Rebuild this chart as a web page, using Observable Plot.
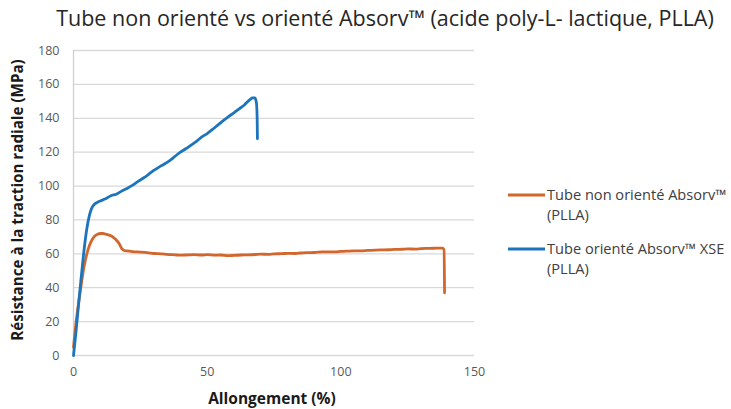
<!DOCTYPE html>
<html>
<head>
<meta charset="utf-8">
<script src="https://cdn.jsdelivr.net/npm/d3@7"></script>
<script src="https://cdn.jsdelivr.net/npm/@observablehq/plot@0.6"></script>
<style>
  html, body { margin: 0; padding: 0; background: #fff; }
  #chart { width: 731px; height: 409px; }
</style>
</head>
<body>
<div id="chart"></div>
<script>
const title = "Tube non orienté vs orienté Absorv™ (acide poly-L- lactique, PLLA)";
const xTitle = "Allongement (%)";
const yTitle = "Résistance à la traction radiale (MPa)";
const seriesNames = ["Tube non orienté Absorv™ (PLLA)", "Tube orienté Absorv™ XSE (PLLA)"];
const seriesLegendLines = [["Tube non orienté Absorv™", "(PLLA)"], ["Tube orienté Absorv™ XSE", "(PLLA)"]];
const xTicks = [0, 50, 100, 150];
const yTicks = [0, 20, 40, 60, 80, 100, 120, 140, 160, 180];

// Non-oriented tube (orange)
const nonOrientedX = [0, 1, 2, 3, 4, 5, 6, 7, 8, 9, 10, 11, 12, 13, 14, 15, 16, 17, 18, 19, 20, 22, 25, 28, 30, 33, 35, 38, 40, 43, 45, 48, 50, 53, 55, 58, 60, 63, 65, 68, 70, 73, 75, 78, 80, 83, 85, 88, 90, 93, 95, 98, 100, 103, 105, 108, 110, 113, 115, 118, 120, 123, 125, 128, 130, 133, 135, 137, 138, 138.6, 138.8];
const nonOrientedY = [5, 20, 32, 43, 53, 60, 65, 68.5, 70.5, 71.5, 72, 72, 71.6, 71.2, 70.6, 69.6, 68.2, 66.2, 63.2, 62, 61.7, 61.3, 61, 60.6, 60.2, 60, 59.7, 59.4, 59.2, 59.4, 59.5, 59.3, 59.5, 59.2, 59.3, 58.9, 59.1, 59.3, 59.4, 59.6, 59.8, 59.7, 60, 60.1, 60.3, 60.2, 60.5, 60.7, 60.8, 61.1, 61.2, 61.1, 61.4, 61.6, 61.7, 61.8, 62, 62.2, 62.3, 62.4, 62.6, 62.7, 62.9, 62.8, 63.1, 63.2, 63.3, 63.4, 63.4, 62.5, 37];

// Oriented tube (blue)
const orientedX = [0, 1, 2, 3, 4, 5, 6, 7, 8, 9, 10, 12, 14, 16, 18, 20, 22, 24, 26, 28, 30, 32, 34, 36, 38, 40, 42, 44, 46, 48, 50, 52, 54, 56, 58, 60, 62, 64, 65, 66, 67, 67.8, 68.4, 68.7, 68.8];
const orientedY = [0, 15, 32, 48, 63, 75, 83, 87.5, 89.5, 90.5, 91.2, 92.5, 94.3, 95.2, 97, 98.6, 100.4, 102.6, 104.6, 106.8, 109.2, 111.2, 113, 115, 117.6, 120, 122, 124.2, 126.4, 129, 131, 133.4, 136, 138.6, 141, 143.2, 145.6, 148, 149.6, 151, 152, 152, 149.5, 140, 128];

const colors = ["#D2662C", "#1C75BC"];

const data = [];
nonOrientedX.forEach((x, i) => data.push({series: seriesNames[0], x, y: nonOrientedY[i]}));
orientedX.forEach((x, i) => data.push({series: seriesNames[1], x, y: orientedY[i]}));

const W = 731, H = 409;
const font = "'Open Sans', sans-serif";

const chart = Plot.plot({
  width: W,
  height: H,
  marginLeft: 73,
  marginRight: 257,
  marginTop: 50,
  marginBottom: 54,
  style: {fontFamily: font, background: "#fff", overflow: "visible"},
  x: {domain: [0, 150], ticks: xTicks, tickSize: 0, tickPadding: 12, label: null},
  y: {domain: [0, 180], ticks: yTicks, tickSize: 0, tickPadding: 14, label: null},
  color: {domain: seriesNames, range: colors},
  marks: [
    Plot.ruleY(yTicks, {stroke: "#D9D9D9", strokeWidth: 1.3}),
    Plot.ruleX([0], {stroke: "#D0D0D0", strokeWidth: 1.3}),
    Plot.axisX({ticks: xTicks, tickSize: 0, tickPadding: 12, fontSize: 12.5, fill: "#595959", label: null}),
    Plot.axisY({ticks: yTicks, tickSize: 0, tickPadding: 14, fontSize: 12.5, fill: "#595959", label: null}),
    Plot.line(data, {x: "x", y: "y", z: "series", stroke: "series", strokeWidth: 2.8, curve: "monotone-x", strokeLinejoin: "round", strokeLinecap: "round"})
  ]
});

const svg = d3.select(chart);
svg.append("text")
  .attr("x", 385).attr("y", 26)
  .attr("text-anchor", "middle")
  .style("font-family", font).style("font-size", "21.5px").style("fill", "#262626")
  .text(title);
svg.append("text")
  .attr("x", 272).attr("y", 404)
  .attr("text-anchor", "middle")
  .style("font-family", font).style("font-size", "15.5px").style("font-weight", "bold").style("fill", "#1a1a1a")
  .text(xTitle);
svg.append("text")
  .attr("transform", "translate(23,200) rotate(-90)")
  .attr("text-anchor", "middle")
  .style("font-family", font).style("font-size", "15.2px").style("font-weight", "bold").style("fill", "#1a1a1a")
  .text(yTitle);

const legendY = [195, 249];
seriesLegendLines.forEach((lines, i) => {
  svg.append("line")
    .attr("x1", 508).attr("x2", 545)
    .attr("y1", legendY[i]).attr("y2", legendY[i])
    .attr("stroke", colors[i]).attr("stroke-width", 2.8);
  lines.forEach((t, j) => {
    svg.append("text")
      .attr("x", 547).attr("y", legendY[i] + j * 20 + 5)
      .attr("text-anchor", "start")
      .style("font-family", font).style("font-size", "14.6px").style("fill", "#404040")
      .text(t);
  });
});

document.getElementById("chart").appendChild(chart);
</script>
</body>
</html>
